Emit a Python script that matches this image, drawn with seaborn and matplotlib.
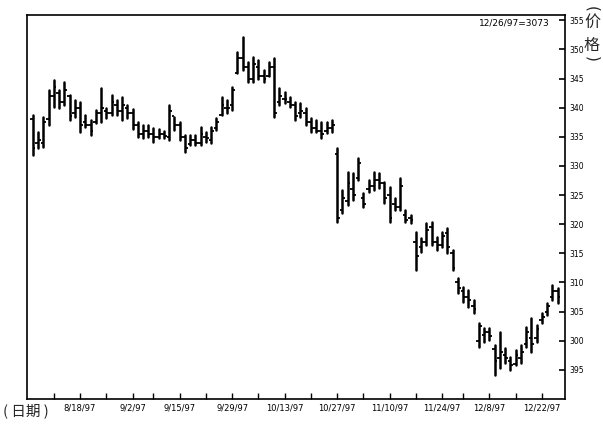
import numpy as np
import pandas as pd
import matplotlib
matplotlib.use("Agg")
import matplotlib.pyplot as plt
import seaborn as sns

# ---------------- data ----------------
high = [338.7, 335.8, 338.4, 343.0, 344.7, 343.0, 344.4, 342.1, 341.3, 341.0,
        338.7, 337.9, 339.6, 343.3, 339.9, 342.1, 341.3, 341.8, 340.4, 339.8,
        337.5, 337.0, 337.0, 336.5, 336.3, 336.0, 340.4, 338.4, 337.5, 335.3,
        335.3, 335.3, 336.6, 335.8, 336.6, 338.2, 341.8, 341.3, 343.5, 349.5,
        352.2, 347.8, 348.7, 348.1, 346.4, 347.8, 348.5, 343.3, 342.6, 341.8,
        341.0, 340.8, 339.9, 338.2, 337.9, 337.5, 337.5, 337.9, 333.0, 325.8,
        329.0, 328.8, 331.3, 325.3, 327.6, 329.0, 328.8, 327.2, 326.4, 324.5,
        327.9, 322.4, 321.6, 318.6, 317.6, 320.2, 320.4, 317.8, 318.6, 319.3,
        315.5, 310.7, 309.2, 308.7, 307.0, 303.0, 302.2, 302.2, 299.3, 301.5,
        298.7, 297.2, 298.4, 299.3, 302.3, 303.9, 302.7, 304.7, 306.5, 309.5,
        309.0]
low = [331.8, 333.0, 333.2, 337.0, 340.1, 339.9, 340.4, 337.9, 338.4, 335.8,
       336.6, 335.3, 337.3, 337.5, 338.2, 338.7, 338.7, 337.9, 338.2, 336.3,
       334.9, 334.8, 334.9, 334.1, 334.8, 334.8, 334.4, 336.1, 334.4, 332.4,
       333.6, 333.6, 333.6, 334.1, 333.9, 336.1, 338.7, 339.0, 339.6, 345.9,
       346.4, 344.4, 344.4, 345.0, 344.4, 345.4, 338.4, 340.4, 340.8, 340.1,
       337.9, 338.4, 337.0, 335.8, 335.8, 334.8, 335.6, 335.8, 320.4, 322.0,
       323.3, 324.1, 327.6, 322.9, 325.5, 325.8, 326.2, 323.6, 320.4, 322.4,
       322.4, 320.4, 320.2, 312.1, 315.2, 316.4, 316.4, 315.5, 316.1, 315.0,
       312.1, 308.2, 306.6, 305.8, 304.7, 298.9, 299.8, 300.1, 294.1, 295.3,
       296.2, 295.0, 295.8, 296.2, 298.9, 298.1, 299.8, 303.0, 304.4, 307.0,
       306.5]
open_ = [338.0, 334.0, 334.0, 338.0, 342.0, 342.5, 341.0, 342.0, 339.0, 340.0,
         337.5, 337.0, 337.5, 339.0, 339.5, 339.0, 340.5, 339.5, 340.0, 339.0,
         337.0, 335.5, 336.0, 335.5, 335.0, 335.5, 335.0, 338.5, 337.0, 335.0,
         333.8, 334.5, 334.0, 335.0, 334.5, 336.5, 338.8, 340.0, 340.5, 346.0,
         348.5, 347.0, 345.0, 347.0, 345.5, 345.5, 347.0, 341.0, 341.5, 341.0,
         340.5, 339.0, 339.0, 337.5, 336.5, 336.0, 336.0, 336.5, 332.0, 322.5,
         324.0, 326.0, 328.0, 324.5, 326.0, 326.5, 327.5, 327.0, 325.0, 323.5,
         323.0, 321.5, 321.0, 317.0, 316.0, 317.0, 319.5, 317.0, 316.5, 318.5,
         315.0, 310.0, 308.5, 307.5, 306.0, 300.0, 301.0, 301.5, 298.5, 297.0,
         297.5, 296.5, 296.0, 297.0, 299.5, 300.5, 300.5, 303.5, 305.0, 307.5,
         308.5]
close = [333.0, 334.5, 337.5, 342.0, 343.5, 341.0, 343.0, 338.5, 340.0, 337.0,
         337.0, 336.0, 339.0, 340.0, 339.0, 341.0, 339.5, 340.5, 339.0, 337.0,
         335.5, 336.0, 335.5, 335.0, 335.5, 335.2, 339.5, 337.0, 335.0, 333.0,
         334.5, 334.0, 335.5, 334.8, 336.0, 337.5, 340.5, 340.0, 343.0, 348.5,
         347.0, 345.0, 347.5, 345.5, 345.0, 347.0, 339.0, 342.0, 341.5, 340.5,
         338.5, 339.5, 337.5, 336.5, 336.0, 335.5, 336.5, 337.0, 321.0, 324.5,
         327.0, 325.0, 330.5, 323.5, 326.5, 327.5, 327.0, 324.5, 321.0, 323.0,
         326.5, 320.8, 320.8, 314.5, 317.0, 319.0, 317.0, 316.5, 318.0, 316.0,
         312.5, 309.0, 307.5, 307.0, 305.5, 302.5, 301.5, 300.8, 296.5, 298.0,
         297.0, 295.8, 297.5, 298.0, 301.5, 299.5, 302.0, 304.0, 306.0, 308.5,
         307.5]

holidays = ["1997-09-01", "1997-11-27", "1997-12-25"]
label_dates = ["1997-08-18", "1997-09-02", "1997-09-15", "1997-09-29", "1997-10-13",
               "1997-10-27", "1997-11-10", "1997-11-24", "1997-12-08", "1997-12-22"]
x_labels = ["8/18/97", "9/2/97", "9/15/97", "9/29/97", "10/13/97",
            "10/27/97", "11/10/97", "11/24/97", "12/8/97", "12/22/97"]
y_ticks = [355, 350, 345, 340, 335, 330, 325, 320, 315, 310, 305, 300, 295]
y_labels = ["355", "350", "345", "340", "335", "330", "325", "320", "315",
            "310", "305", "300", "395"]
note_text = "12/26/97=3073"

# ---------------- build ----------------
dates = pd.bdate_range("1997-08-05", "1997-12-26")
dates = dates[~dates.isin(pd.to_datetime(holidays))]
n = len(dates)
idx = np.arange(n)

df = pd.DataFrame({"day": idx, "high": high[:n], "low": low[:n],
                   "open": open_[:n], "close": close[:n]})
long = df.melt(id_vars="day", value_vars=["high", "low"], value_name="price")
long["x"] = long["day"]

sns.set_theme(style="white")
plt.rcParams["font.family"] = ["DejaVu Sans", "Noto Sans CJK SC"]

W, H = 603, 425
fig = plt.figure(figsize=(W / 100, H / 100), dpi=100)
ax = fig.add_axes([27 / W, 1 - 399 / H, (565 - 27) / W, (399 - 15) / H])

sns.lineplot(data=long, x="x", y="price", units="day", estimator=None,
             color="black", lw=1.8, ax=ax, legend=False)
tw = 0.5
ax.hlines(df["open"], df["day"] - tw, df["day"], color="black", lw=1.3)
ax.hlines(df["close"], df["day"], df["day"] + tw, color="black", lw=1.3)

ax.set_xlim(-1.1, 101.4)
ax.set_ylim(290.0, 355.9)
ax.set_xlabel("")
ax.set_ylabel("")

# x ticks
pos = [dates.get_loc(pd.Timestamp(d)) for d in label_dates]
ax.set_xticks(pos)
ax.set_xticklabels(x_labels, fontsize=6)
wk = pd.Series(idx, index=dates).groupby(dates.to_period("W")).min().values
ax.set_xticks([w for w in wk if w > 0], minor=True)
ax.tick_params(axis="x", which="both", direction="in", length=4, width=1.0,
               bottom=True, colors="black", pad=3)

# y ticks on right
ax.yaxis.tick_right()
ax.set_yticks(y_ticks)
ax.set_yticklabels(y_labels, fontsize=5.5)
ax.tick_params(axis="y", direction="in", length=4, width=1.2, right=True,
               left=False, colors="black", pad=3)

for s in ax.spines.values():
    s.set_visible(True)
    s.set_color("black")
    s.set_linewidth(1.2)

ax.text(0.972, 0.99, note_text, transform=ax.transAxes, ha="right", va="top",
        fontsize=6.5, color="black")

cjk = ["Noto Sans CJK SC", "DejaVu Sans"]
fig.text(592 / W, 1 - 9 / H, "(", ha="center", va="center", fontsize=11,
         rotation=-90, family="DejaVu Sans")
fig.text(592 / W, 1 - 22 / H, "价", ha="center", va="center", fontsize=11.5, family=cjk)
fig.text(592 / W, 1 - 45 / H, "格", ha="center", va="center", fontsize=11.5, family=cjk)
fig.text(592 / W, 1 - 59 / H, ")", ha="center", va="center", fontsize=11,
         rotation=-90, family="DejaVu Sans")
fig.text(3 / W, 1 - 411 / H, "( 日期 )", ha="left", va="center", fontsize=10.5, family=cjk)

fig.savefig("out.png", dpi=100, facecolor="white")
